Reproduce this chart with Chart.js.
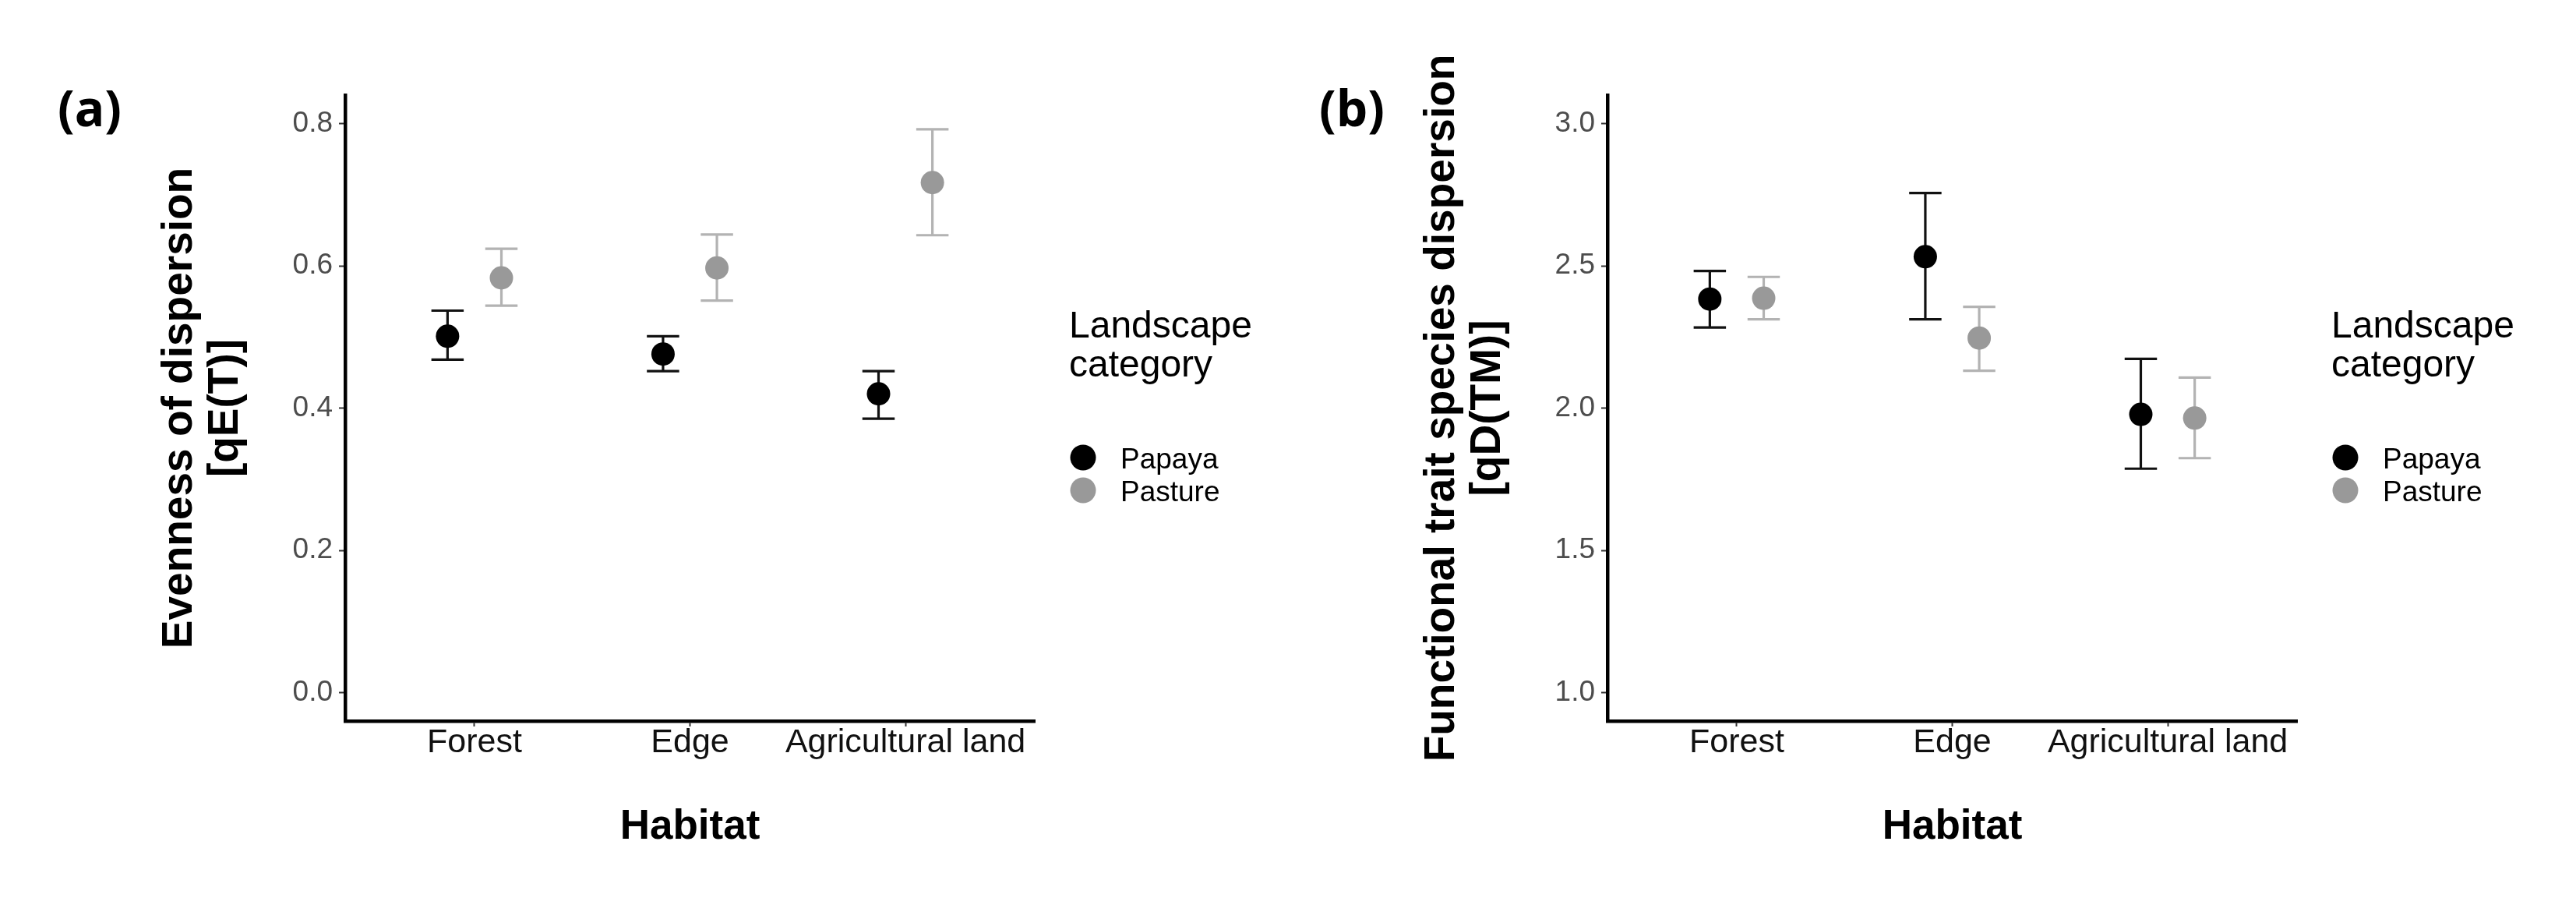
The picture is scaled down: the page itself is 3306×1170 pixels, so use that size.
<!DOCTYPE html>
<html>
<head>
<meta charset="utf-8">
<script src="https://cdn.jsdelivr.net/npm/chart.js@4.4.1/dist/chart.umd.min.js"></script>
<style>
  html, body { margin: 0; padding: 0; background: #fff; }
  #wrap { position: relative; width: 3306px; height: 1170px; }
  canvas { position: absolute; top: 0; }
</style>
</head>
<body>
<div id="wrap">
  <canvas id="chartA" width="1620" height="1170" style="left:0;width:1620px;height:1170px"></canvas>
  <canvas id="chartB" width="1686" height="1170" style="left:1620px;width:1686px;height:1170px"></canvas>
</div>
<script>
const habitats = ['Forest', 'Edge', 'Agricultural land'];
const groups = ['Papaya', 'Pasture'];
const legendTitle = ['Landscape', 'category'];

// (a) evenness of dispersion qE(T): mean, lower, upper
const evenPapaya   = [0.501, 0.476, 0.420];
const evenPapayaLo = [0.468, 0.452, 0.385];
const evenPapayaHi = [0.537, 0.501, 0.452];
const evenPasture   = [0.583, 0.597, 0.717];
const evenPastureLo = [0.544, 0.551, 0.643];
const evenPastureHi = [0.624, 0.644, 0.792];
const evenTicks = [0, 0.2, 0.4, 0.6, 0.8];

// (b) functional trait species dispersion qD(TM)
const dispPapaya   = [2.383, 2.532, 1.978];
const dispPapayaLo = [2.283, 2.312, 1.787];
const dispPapayaHi = [2.482, 2.756, 2.173];
const dispPasture   = [2.386, 2.246, 1.965];
const dispPastureLo = [2.312, 2.131, 1.824];
const dispPastureHi = [2.461, 2.356, 2.107];
const dispTicks = [1.0, 1.5, 2.0, 2.5, 3.0];

const FONT = "'Liberation Sans', Arial, Helvetica, sans-serif";
const dodge = 0.125;
const capHalf = 0.075;

// error bars drawn under the points
const errorBars = {
  id: 'errorBars',
  beforeDatasetsDraw(chart) {
    const { ctx, scales: { x, y } } = chart;
    chart.data.datasets.forEach(ds => {
      ctx.save();
      ctx.strokeStyle = ds.barColor;
      ctx.lineWidth = 3.2;
      ds.data.forEach((p, i) => {
        const px = x.getPixelForValue(p.x);
        const l = x.getPixelForValue(p.x - capHalf);
        const r = x.getPixelForValue(p.x + capHalf);
        const top = y.getPixelForValue(ds.hi[i]);
        const bot = y.getPixelForValue(ds.lo[i]);
        ctx.beginPath();
        ctx.moveTo(px, top); ctx.lineTo(px, bot);
        ctx.moveTo(l, top); ctx.lineTo(r, top);
        ctx.moveTo(l, bot); ctx.lineTo(r, bot);
        ctx.stroke();
      });
      ctx.restore();
    });
  }
};

// panel tag, y title (may overflow the panel height) and legend
const decor = {
  id: 'decor',
  afterDraw(chart, args, opts) {
    const { ctx, chartArea: a } = chart;
    ctx.save();
    ctx.fillStyle = '#000';

    ctx.font = "bold 64px 'Open Sans', sans-serif";
    ctx.textAlign = 'center';
    ctx.textBaseline = 'middle';
    ctx.fillText(opts.tag, 115, 144);

    ctx.save();
    ctx.font = 'bold 55px ' + FONT;
    ctx.textBaseline = 'alphabetic';
    ctx.translate(a.left - 197, (a.top + a.bottom) / 2);
    ctx.rotate(-Math.PI / 2);
    opts.yTitle.forEach((t, k) => ctx.fillText(t, 0, k * 59));
    ctx.restore();

    ctx.textAlign = 'left';
    ctx.textBaseline = 'alphabetic';
    ctx.font = '48px ' + FONT;
    legendTitle.forEach((t, k) => ctx.fillText(t, a.right + 44, 433 + k * 50));
    ctx.font = '37px ' + FONT;
    chart.data.datasets.forEach((ds, k) => {
      ctx.fillStyle = ds.backgroundColor;
      ctx.beginPath();
      ctx.arc(a.right + 62, 587 + k * 42, 16.5, 0, Math.PI * 2);
      ctx.fill();
      ctx.fillStyle = '#000';
      ctx.fillText(ds.label, a.right + 110, 601 + k * 42);
    });
    ctx.restore();
  }
};

function makeChart(id, cfg) {
  return new Chart(document.getElementById(id), {
    type: 'scatter',
    data: {
      datasets: [
        {
          label: groups[0],
          data: cfg.papaya.map((v, i) => ({ x: i - dodge, y: v })),
          lo: cfg.papayaLo, hi: cfg.papayaHi,
          backgroundColor: '#000000', barColor: '#111111'
        },
        {
          label: groups[1],
          data: cfg.pasture.map((v, i) => ({ x: i + dodge, y: v })),
          lo: cfg.pastureLo, hi: cfg.pastureHi,
          backgroundColor: '#999999', barColor: '#b3b3b3'
        }
      ]
    },
    options: {
      responsive: false,
      animation: false,
      devicePixelRatio: 1,
      layout: { padding: { top: 122, right: cfg.padRight, bottom: 77, left: 0 } },
      elements: { point: { radius: 15, hoverRadius: 15, borderWidth: 0 } },
      plugins: {
        legend: { display: false },
        tooltip: { enabled: false },
        decor: { tag: cfg.tag, yTitle: cfg.yTitle }
      },
      scales: {
        x: {
          type: 'linear', min: -0.6, max: 2.6, bounds: 'data',
          afterBuildTicks: ax => { ax.ticks = habitats.map((h, i) => ({ value: i })); },
          afterFit: ax => { ax.height = 168; },
          ticks: {
            callback: v => habitats[v],
            font: { family: FONT, size: 43, lineHeight: 1 },
            color: '#111', padding: 0, autoSkip: false, maxRotation: 0
          },
          grid: { drawOnChartArea: false, drawTicks: true, tickLength: 7, tickColor: '#333', tickWidth: 2 },
          border: { color: '#000', width: 4.5 },
          title: {
            display: true, text: 'Habitat', color: '#000', padding: 0,
            font: { family: FONT, size: 53, weight: 'bold', lineHeight: 1.2 }
          }
        },
        y: {
          type: 'linear', min: cfg.yMin, max: cfg.yMax, bounds: 'data',
          afterBuildTicks: ax => { ax.ticks = cfg.ticks.map(v => ({ value: v })); },
          afterFit: ax => { ax.width = 443; },
          ticks: {
            callback: v => v.toFixed(1),
            font: { family: FONT, size: 37 },
            color: '#4d4d4d', padding: 8
          },
          grid: { drawOnChartArea: false, drawTicks: true, tickLength: 8, tickColor: '#333', tickWidth: 2 },
          border: { color: '#000', width: 4.5 }
        }
      }
    },
    plugins: [errorBars, decor]
  });
}

makeChart('chartA', {
  tag: '(a)',
  yTitle: ['Evenness of dispersion', '[qE(T)]'],
  papaya: evenPapaya, papayaLo: evenPapayaLo, papayaHi: evenPapayaHi,
  pasture: evenPasture, pastureLo: evenPastureLo, pastureHi: evenPastureHi,
  ticks: evenTicks, yMin: -0.04, yMax: 0.84, padRight: 292
});

makeChart('chartB', {
  tag: '(b)',
  yTitle: ['Functional trait species dispersion', '[qD(TM)]'],
  papaya: dispPapaya, papayaLo: dispPapayaLo, papayaHi: dispPapayaHi,
  pasture: dispPasture, pastureLo: dispPastureLo, pastureHi: dispPastureHi,
  ticks: dispTicks, yMin: 0.9, yMax: 3.1, padRight: 358
});
</script>
</body>
</html>
